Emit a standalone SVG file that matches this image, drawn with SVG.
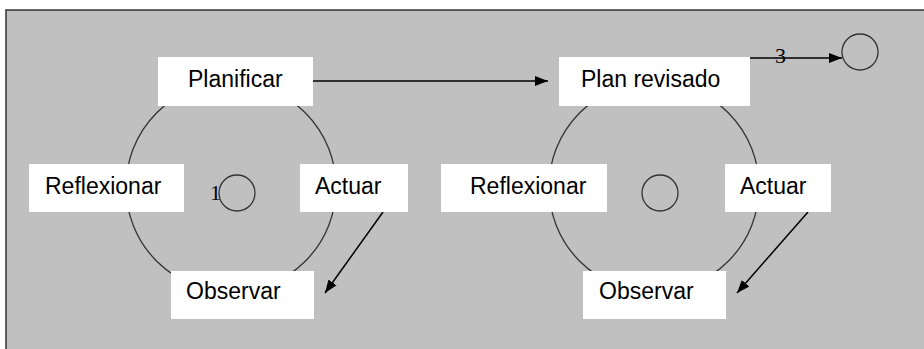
<svg xmlns="http://www.w3.org/2000/svg" width="924" height="349" viewBox="0 0 924 349">
<defs>
<style>
.bg{fill:#c0c0c0;stroke:none}
.frame{fill:none;stroke:#333;stroke-width:1.5}
.box{fill:#fff;stroke:none}
.lbl{font-family:"Liberation Sans",Arial,sans-serif;font-size:23px;fill:#000}
.num{font-family:"Liberation Serif","Times New Roman",serif;font-size:22px;fill:#000}
.ring{fill:none;stroke:#333;stroke-width:1.3}
.arr{stroke:#000;stroke-width:1.5;fill:none;marker-end:url(#ah)}
</style>
<marker id="ah" markerWidth="14" markerHeight="10" refX="13" refY="5" orient="auto" markerUnits="userSpaceOnUse">
<path d="M0,0 L13,5 L0,10 Z" fill="#000"/>
</marker>
</defs>
<rect class="bg" x="6" y="10" width="918" height="339"/>
<path class="frame" d="M6,349 L6,10 L924,10"/>
<g id="cycles">
<circle class="ring" cx="231" cy="187" r="105"/>
<circle class="ring" cx="654" cy="187" r="105"/>
</g>
<g id="connectors">
<line class="arr" x1="313" y1="81" x2="548" y2="81"/>
<line class="arr" x1="749" y1="58" x2="842" y2="58"/>
<line class="arr" x1="383" y1="212" x2="325" y2="293"/>
<line class="arr" x1="808" y1="212" x2="737" y2="293"/>
</g>
<g id="planificar"><rect class="box" x="158" y="57" width="155" height="49"/><text class="lbl" x="188" y="87">Planificar</text></g>
<g id="reflexionar1"><rect class="box" x="29" y="164" width="155" height="48"/><text class="lbl" x="45" y="194">Reflexionar</text></g>
<g id="actuar1"><rect class="box" x="300" y="164" width="108" height="48"/><text class="lbl" x="315" y="194">Actuar</text></g>
<g id="observar1"><rect class="box" x="171" y="271" width="143" height="48"/><text class="lbl" x="186" y="299">Observar</text></g>
<g id="center1"><circle class="ring" cx="237" cy="193" r="18"/><text class="num" x="210" y="200">1</text></g>
<g id="planrevisado"><rect class="box" x="559" y="57" width="191" height="49"/><text class="lbl" x="581" y="87">Plan revisado</text></g>
<g id="reflexionar2"><rect class="box" x="441" y="164" width="166" height="48"/><text class="lbl" x="470" y="194">Reflexionar</text></g>
<g id="actuar2"><rect class="box" x="725" y="164" width="106" height="48"/><text class="lbl" x="740" y="194">Actuar</text></g>
<g id="observar2"><rect class="box" x="583" y="271" width="143" height="48"/><text class="lbl" x="599" y="299">Observar</text></g>
<g id="center2"><circle class="ring" cx="660" cy="193" r="18"/></g>
<g id="label3"><text class="num" x="775" y="63">3</text></g>
<g id="next"><circle class="ring" cx="860" cy="52" r="18"/></g>
</svg>
